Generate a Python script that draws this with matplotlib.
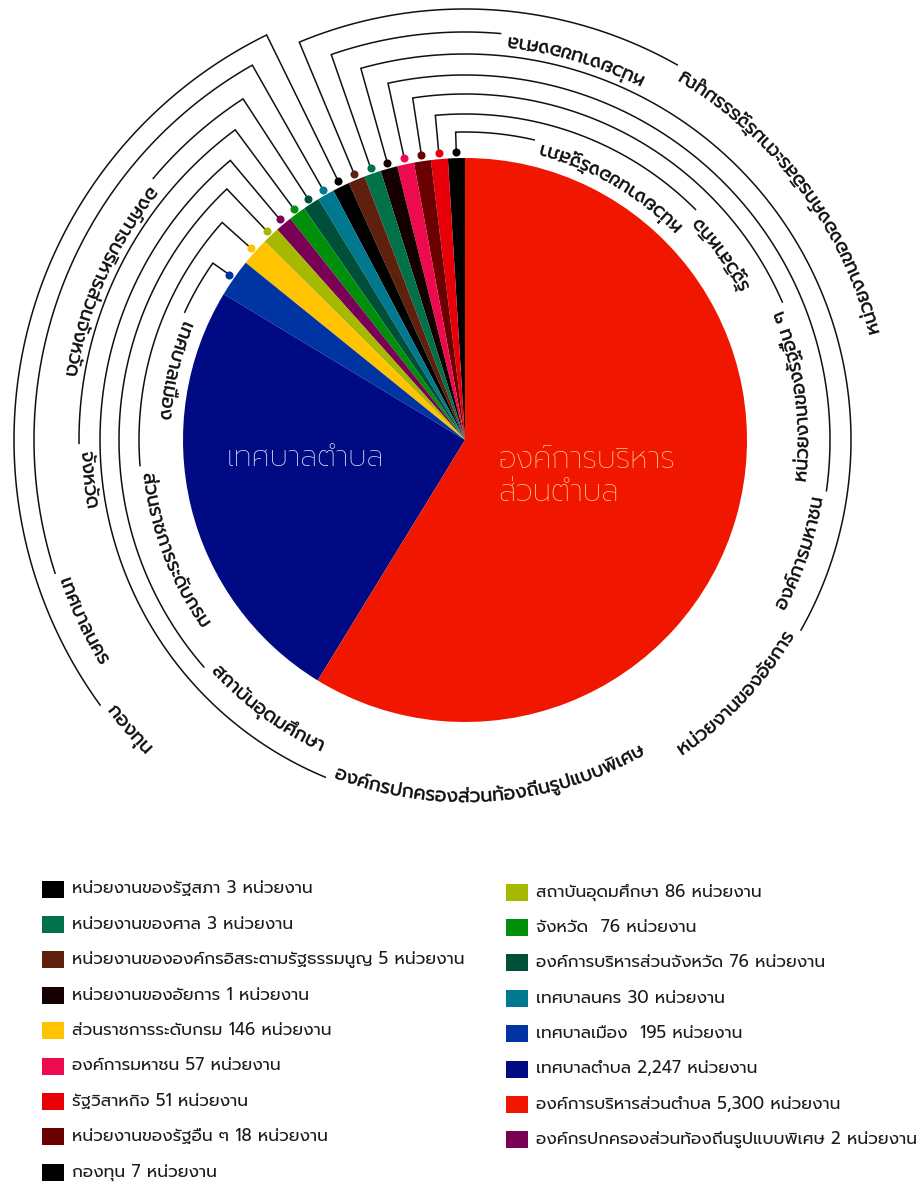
import numpy as np
import matplotlib
matplotlib.use('Agg')
import matplotlib.pyplot as plt
from matplotlib.textpath import TextPath
from matplotlib.font_manager import FontProperties
from matplotlib.patches import PathPatch, Rectangle
from matplotlib.path import Path

# data, in legend order
names = ['หน่วยงานของรัฐสภา', 'หน่วยงานของศาล', 'หน่วยงานขององค์กรอิสระตามรัฐธรรมนูญ',
         'หน่วยงานของอัยการ', 'ส่วนราชการระดับกรม', 'องค์การมหาชน', 'รัฐวิสาหกิจ',
         'หน่วยงานของรัฐอื่น ๆ', 'กองทุน', 'สถาบันอุดมศึกษา', 'จังหวัด ',
         'องค์การบริหารส่วนจังหวัด', 'เทศบาลนคร', 'เทศบาลเมือง ', 'เทศบาลตำบล',
         'องค์การบริหารส่วนตำบล', 'องค์กรปกครองส่วนท้องถิ่นรูปแบบพิเศษ']
values = [3, 3, 5, 1, 146, 57, 51, 18, 7, 86, 76, 76, 30, 195, 2247, 5300, 2]
colors = ['#000000', '#007148', '#5f200e', '#140000', '#ffc300', '#ee0a4e', '#e80008',
          '#6a0000', '#000000', '#a6b800', '#008f0a', '#004f39', '#00788f', '#0034a2',
          '#000a82', '#f11600', '#7a0055']

# order of the slices, counter-clockwise from 12 o'clock
pie_order = [0, 6, 7, 5, 3, 1, 2, 8, 12, 11, 10, 16, 9, 4, 13, 14, 15]

# callouts: legend index -> (side, radius, angle where the line stops)
callouts = {
    0: ('R', 308, 77.0), 6: ('R', 326, 45.0), 7: ('R', 346, 23.5), 5: ('R', 365, -8.0),
    3: ('R', 386, -29.5), 1: ('R', 408, 85.0), 2: ('R', 431, 60.5),
    8: ('L', 451, 216.0), 12: ('L', 431, 198.0), 11: ('L', 407, 140.0),
    10: ('L', 386, 180.5), 16: ('L', 365, 247.5), 9: ('L', 346, 221.0),
    4: ('L', 326, 184.5), 13: ('L', 308, 155.5),
}

W, H = 918, 1182
FONT = 'Prompt'
fp = FontProperties(family=FONT)
LABEL_SIZE = 19

fig = plt.figure(figsize=(W / 100, H / 100), dpi=100)
ax = fig.add_axes([0, 0, 1, 1])

cx, cy, R = 465, H - 440, 282
total = sum(values)
# tiny slices are widened to about 1 % of the total so they stay visible
shown = [max(values[i], total * 0.0105) for i in pie_order]
wedges, _ = ax.pie(shown, colors=[colors[i] for i in pie_order], startangle=90,
                   counterclock=True, center=(cx, cy), radius=R,
                   wedgeprops=dict(linewidth=0))
ax.set_xlim(0, W)
ax.set_ylim(0, H)
ax.set_aspect('equal')
ax.axis('off')


def arc_text(s, rb, th_start, size=LABEL_SIZE):
    # text bent along a circle, read counter-clockwise, tops toward the centre
    tp = TextPath((0, 0), s, size=size, prop=fp)
    v = tp.vertices.copy()
    ext = tp.get_extents()
    x = v[:, 0] - ext.x0
    th = th_start + x / rb
    rr = rb - v[:, 1]
    nv = np.column_stack([cx + rr * np.cos(th), cy + rr * np.sin(th)])
    ax.add_patch(PathPatch(Path(nv, tp.codes), facecolor='#111111', edgecolor='#111111',
                           lw=0.3, zorder=5))


def text_width(s, size=LABEL_SIZE):
    return TextPath((0, 0), s, size=size, prop=fp).get_extents().width


for k, w in enumerate(wedges):
    i = pie_order[k]
    if i not in callouts:
        continue
    side, r, a_end = callouts[i]
    mid = np.radians((w.theta1 + w.theta2) / 2)
    a_end = np.radians(a_end)
    arc = np.linspace(mid, a_end, 120)
    xs = np.concatenate([[cx + 291 * np.cos(mid)], cx + r * np.cos(arc)])
    ys = np.concatenate([[cy + 291 * np.sin(mid)], cy + r * np.sin(arc)])
    ax.plot(xs, ys, color='#111111', lw=1.1, zorder=3, solid_joinstyle='miter')
    ax.plot(cx + 288 * np.cos(mid), cy + 288 * np.sin(mid), 'o', color=colors[i],
            markersize=4.8, zorder=4)
    label = names[i].strip()
    rb = r - 3
    gap = 9 / rb
    if side == 'L':
        arc_text(label, rb, a_end + gap)
    else:
        arc_text(label, rb, a_end - gap - text_width(label) / rb)

# labels inside the two big slices
ax.text(305, H - 458, names[14], ha='center', va='center', fontsize=21,
        color='#dfe8ff', family=FONT, weight='light', zorder=6)
ax.text(498, H - 477, 'องค์การบริหาร\nส่วนตำบล', ha='left', va='center', fontsize=21.5,
        color='#ffd08a', family=FONT, weight='light', linespacing=1.15, zorder=6)

# legend in two columns
left_col = [0, 1, 2, 3, 4, 5, 6, 7, 8]
right_col = [9, 10, 11, 12, 13, 14, 15, 16]
for col, x0, y0 in [(left_col, 42, 889), (right_col, 506, 892)]:
    for j, i in enumerate(col):
        yy = H - (y0 + j * 35.4)
        ax.add_patch(Rectangle((x0, yy - 8.5), 22, 17, facecolor=colors[i], edgecolor='none'))
        ax.text(x0 + 30, yy, '%s %s หน่วยงาน' % (names[i], format(values[i], ',')),
                ha='left', va='center', fontsize=12.2, color='#1a1a1a', family=FONT)

fig.savefig('out.png', dpi=100)
